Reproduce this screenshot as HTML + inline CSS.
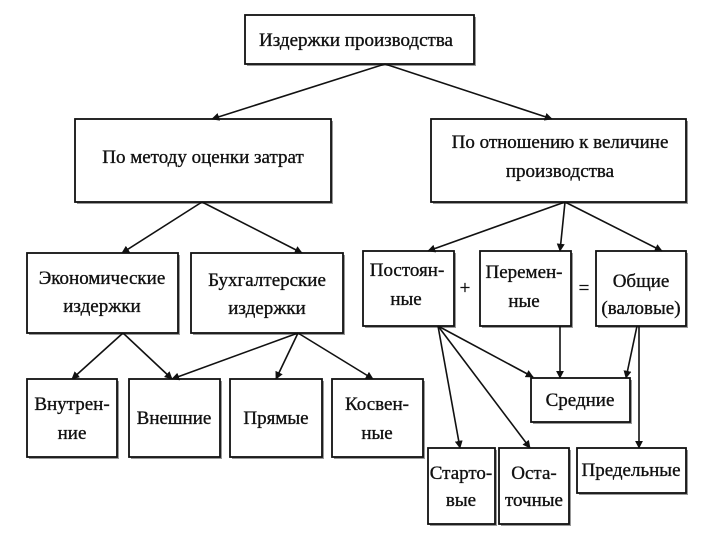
<!DOCTYPE html>
<html><head><meta charset="utf-8"><style>
html,body{margin:0;padding:0;background:#fff;width:720px;height:540px;overflow:hidden}
svg text{font-family:"Liberation Serif",serif;font-size:19px;fill:#111;stroke:#111;stroke-width:0.35;text-anchor:middle}
</style></head><body>
<svg width="720" height="540" viewBox="0 0 720 540" xmlns="http://www.w3.org/2000/svg">
<defs>
<marker id="a" viewBox="0 0 10 10" refX="9" refY="5" markerWidth="8" markerHeight="8" orient="auto-start-reverse" markerUnits="userSpaceOnUse">
<path d="M0,0 L10,5 L0,10 z" fill="#111"/></marker>
</defs>
<g fill="#999">
<rect x="247" y="17" width="229" height="49"/>
<rect x="77" y="121" width="256" height="83"/>
<rect x="433" y="121" width="255" height="83"/>
<rect x="29" y="255" width="151" height="80"/>
<rect x="193" y="255" width="152" height="80"/>
<rect x="365" y="253" width="91" height="75"/>
<rect x="482" y="253" width="91" height="75"/>
<rect x="598" y="253" width="90" height="75"/>
<rect x="29" y="381" width="90" height="78"/>
<rect x="131" y="381" width="91" height="78"/>
<rect x="232" y="381" width="92" height="78"/>
<rect x="334" y="381" width="91" height="78"/>
<rect x="533" y="380" width="99" height="44"/>
<rect x="430" y="450" width="67" height="76"/>
<rect x="501" y="450" width="70" height="76"/>
<rect x="579" y="450" width="109" height="45"/>
</g>
<g fill="#fff" stroke="#111" stroke-width="1.8">
<rect x="245" y="15" width="229" height="49"/>
<rect x="75" y="119" width="256" height="83"/>
<rect x="431" y="119" width="255" height="83"/>
<rect x="27" y="253" width="151" height="80"/>
<rect x="191" y="253" width="152" height="80"/>
<rect x="363" y="251" width="91" height="75"/>
<rect x="480" y="251" width="91" height="75"/>
<rect x="596" y="251" width="90" height="75"/>
<rect x="27" y="379" width="90" height="78"/>
<rect x="129" y="379" width="91" height="78"/>
<rect x="230" y="379" width="92" height="78"/>
<rect x="332" y="379" width="91" height="78"/>
<rect x="531" y="378" width="99" height="44"/>
<rect x="428" y="448" width="67" height="76"/>
<rect x="499" y="448" width="70" height="76"/>
<rect x="577" y="448" width="109" height="45"/>
</g>
<g stroke="#111" stroke-width="1.6" marker-end="url(#a)">
<line x1="385" y1="64" x2="212" y2="119"/>
<line x1="385" y1="64" x2="552" y2="119"/>
<line x1="202" y1="202" x2="122" y2="253"/>
<line x1="202" y1="202" x2="302" y2="253"/>
<line x1="565" y1="202" x2="428" y2="251"/>
<line x1="565" y1="202" x2="560" y2="251"/>
<line x1="565" y1="202" x2="662" y2="251"/>
<line x1="123" y1="333" x2="72" y2="379"/>
<line x1="123" y1="333" x2="172" y2="379"/>
<line x1="298" y1="333" x2="172" y2="379"/>
<line x1="298" y1="333" x2="276" y2="379"/>
<line x1="298" y1="333" x2="373" y2="379"/>
<line x1="438" y1="326" x2="533" y2="377"/>
<line x1="438" y1="326" x2="460" y2="448"/>
<line x1="438" y1="326" x2="530" y2="448"/>
<line x1="560" y1="326" x2="560" y2="378"/>
<line x1="637" y1="326" x2="626" y2="378"/>
<line x1="639" y1="326" x2="639" y2="448"/>
</g>
<text x="356" y="46">Издержки производства</text>
<text x="203" y="163">По методу оценки затрат</text>
<text x="560" y="148">По отношению к величине</text>
<text x="560" y="177">производства</text>
<text x="102" y="284">Экономические</text>
<text x="102" y="312">издержки</text>
<text x="267" y="286">Бухгалтерские</text>
<text x="267" y="314">издержки</text>
<text x="407" y="276">Постоян-</text>
<text x="406" y="305">ные</text>
<text x="524" y="278">Перемен-</text>
<text x="524" y="307">ные</text>
<text x="641" y="287">Общие</text>
<text x="641" y="314">(валовые)</text>
<text x="465" y="294">+</text>
<text x="584" y="294">=</text>
<text x="72" y="410">Внутрен-</text>
<text x="72" y="439">ние</text>
<text x="174" y="424">Внешние</text>
<text x="276" y="424">Прямые</text>
<text x="377" y="410">Косвен-</text>
<text x="377" y="439">ные</text>
<text x="580" y="406">Средние</text>
<text x="461" y="479">Старто-</text>
<text x="461" y="506">вые</text>
<text x="534" y="479">Оста-</text>
<text x="534" y="506">точные</text>
<text x="631" y="476">Предельные</text>
</svg>
</body></html>
